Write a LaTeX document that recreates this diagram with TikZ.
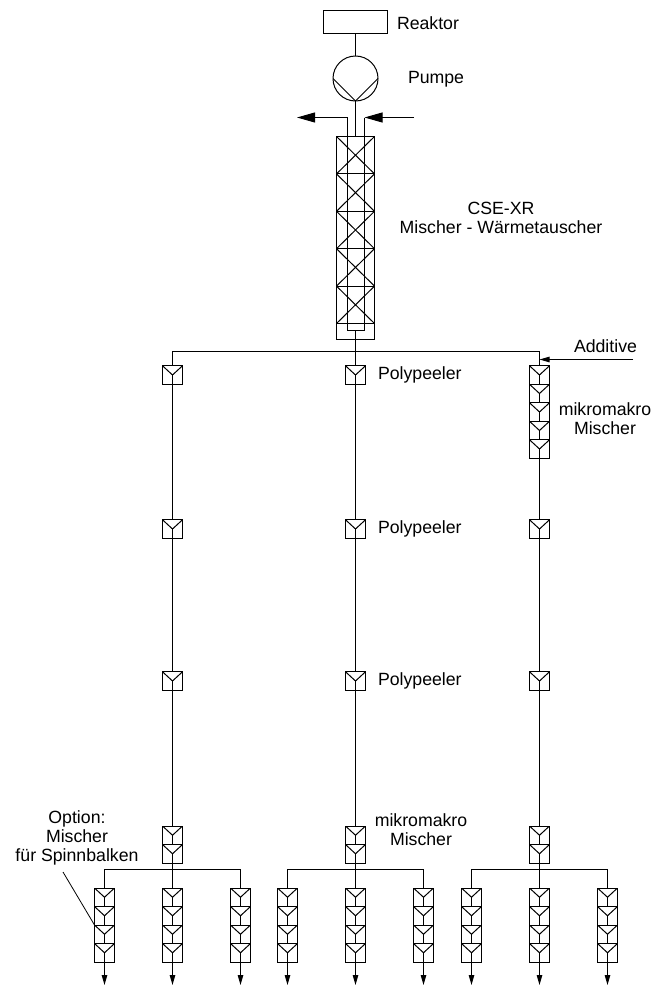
\documentclass[tikz,border=0pt]{standalone}
\usepackage{fontspec}
\setmainfont{Liberation Sans}
\usetikzlibrary{arrows.meta, positioning}

\begin{document}
\begin{tikzpicture}[
        x=1pt, y=-1pt,
        line width=1pt,
        every node/.style={inner sep=0pt, outer sep=0pt},
        annot/.style={font=\fontsize{17.7}{19}\selectfont, align=center},
        reaktorbox/.style={draw, minimum width=64pt, minimum height=23pt},
        pumpe/.style={draw, circle, minimum size=45pt, path picture={
            \draw (path picture bounding box.west) -- (path picture bounding box.south) -- (path picture bounding box.east);}},
        xzelle/.style={draw, minimum width=38pt, minimum height=37.4pt, path picture={
            \draw (path picture bounding box.north west) -- (path picture bounding box.south east);
            \draw (path picture bounding box.north east) -- (path picture bounding box.south west);}},
        mantel/.style={draw, minimum width=38pt, minimum height=16pt},
        mischer/.style={draw, minimum width=20pt, minimum height=18.5pt, path picture={
            \draw (path picture bounding box.north west) -- (path picture bounding box.center) -- (path picture bounding box.north east);
            \draw (path picture bounding box.center) -- (path picture bounding box.south);}},
        bigarrow/.style={-{Triangle[length=18pt, width=10pt]}},
        smallarrow/.style={-{Triangle[length=10pt, width=5.5pt]}}
    ]
    \useasboundingbox (0,0) rectangle (669,985);

    % --- Top: reactor, pump, heat exchanger ---
    \node[reaktorbox] (reaktor) at (355.5,22) {};
    \node[annot, anchor=base west] (reaktorlabel) at (397,29) {Reaktor};
    \node[pumpe] (pump) at (355.5,78.5) {};
    \node[annot, anchor=base west] (pumplabel) at (408,83) {Pumpe};
    \draw (reaktor.south) -- (pump.north);

    \node[xzelle] (x1) at (355.5,155.2) {};
    \foreach \i [remember=\i as \last (initially 1)] in {2,...,5} {
        \node[xzelle, below=0pt of x\last] (x\i) {};
    }
    \node[mantel, below=0pt of x5] (xmantel) {};
    \node[annot] (xlabel) at (501,218) {CSE-XR\\Mischer - Wärmetauscher};
    \draw (pump.south) -- (x1.north);

    % --- Coolant loop inside the exchanger ---
    \coordinate (kaus) at (297,117.5);
    \coordinate (kein) at (414,117.5);
    \coordinate (ko1) at (347.5,117.5);
    \coordinate (ko2) at (364.5,117.5);
    \coordinate (ku1) at (347.5,330.5);
    \coordinate (ku2) at (364.5,330.5);
    \coordinate (kmitte) at (355.5,330.5);
    \draw (ko1) -- (ku1) -- (ku2) -- (ko2);
    \draw[bigarrow] (ko1) -- (kaus);
    \draw[bigarrow] (kein) -- (ko2);

    % --- Three spinning lines ---
    \foreach \sx/\n in {172.5/a, 355.5/b, 539.5/c} {
        \node[mischer] (\n1) at (\sx,375) {};
        \node[mischer] (\n2) at (\sx,529) {};
        \node[mischer] (\n3) at (\sx,681) {};
        \node[mischer] (\n4) at (\sx,835.25) {};
        \node[mischer, below=0pt of \n4] (\n5) {};
        \draw (\n2.south) -- (\n3.north);
        \draw (\n3.south) -- (\n4.north);
        % branch to three spinning beams
        \coordinate (\n h) at (\sx,869.5);
        \foreach \dx/\m in {-68/l, 0/m, 68/r} {
            \node[mischer] (\n\m1) at (\sx+\dx,897.25) {};
            \node[mischer, below=0pt of \n\m1] (\n\m2) {};
            \node[mischer, below=0pt of \n\m2] (\n\m3) {};
            \node[mischer, below=0pt of \n\m3] (\n\m4) {};
            \coordinate (\n\m e) at (\sx+\dx,985);
            \draw[smallarrow] (\n\m4.south) -- (\n\m e);
        }
        \draw (\n5.south) -- (\n m1.north);
        \draw (\n l1.north) |- (\n h) -| (\n r1.north);
    }

    % --- Extra mixers in the right line ---
    \node[mischer, below=0pt of c1] (c12) {};
    \node[mischer, below=0pt of c12] (c13) {};
    \node[mischer, below=0pt of c13] (c14) {};
    \node[mischer, below=0pt of c14] (c15) {};

    % --- Header and vertical lines ---
    \coordinate (kopf) at (355.5,351.5);
    \draw (a1.north) |- (kopf) -| (c1.north);
    \draw (kmitte) -- (b1.north);
    \draw (a1.south) -- (a2.north);
    \draw (b1.south) -- (b2.north);
    \draw (c15.south) -- (c2.north);

    % --- Labels ---
    \coordinate (addein) at (633,359.5);
    \coordinate (addziel) at (539.5,359.5);
    \draw[smallarrow] (addein) -- (addziel);
    \node[annot, anchor=base west] (addlabel) at (574,352) {Additive};
    \node[annot, anchor=base west] (poly1) at (378,379) {Polypeeler};
    \node[annot, anchor=base west] (poly2) at (378,533) {Polypeeler};
    \node[annot, anchor=base west] (poly3) at (378,685) {Polypeeler};
    \node[annot] (mikro1) at (605,419) {mikromakro\\Mischer};
    \node[annot] (mikro2) at (421,830) {mikromakro\\Mischer};
    \node[annot] (option) at (77,837.5) {Option:\\Mischer\\für Spinnbalken};
    \coordinate (optstart) at (63,872);
    \draw[line width=0.8pt] (optstart) -- (al3.north west);
\end{tikzpicture}
\end{document}
